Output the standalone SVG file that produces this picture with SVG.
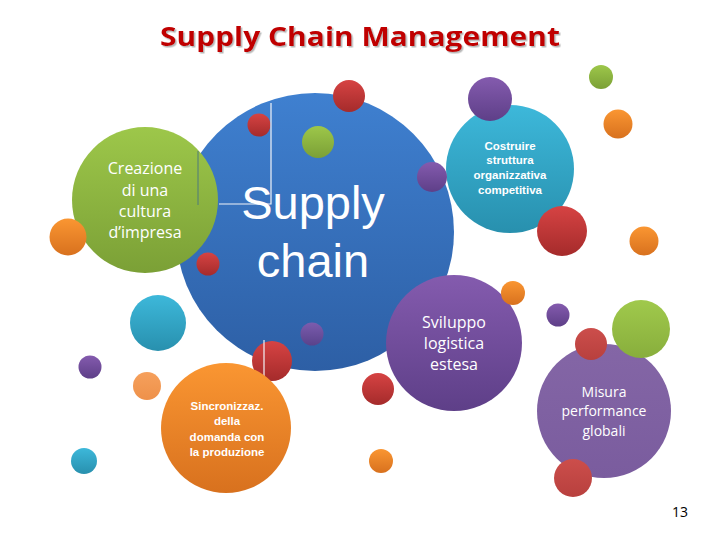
<svg xmlns="http://www.w3.org/2000/svg" width="720" height="540" viewBox="0 0 720 540">
<defs>
<linearGradient id="gBlue" x1="0" y1="0" x2="0" y2="1"><stop offset="0" stop-color="#3F80D0"/><stop offset="1" stop-color="#2D5FA5"/></linearGradient>
<linearGradient id="gGreen" x1="0" y1="0" x2="0" y2="1"><stop offset="0" stop-color="#9DC74A"/><stop offset="1" stop-color="#7BA036"/></linearGradient>
<linearGradient id="gRed" x1="0" y1="0" x2="0" y2="1"><stop offset="0" stop-color="#D64343"/><stop offset="1" stop-color="#A52B2B"/></linearGradient>
<linearGradient id="gRed2" x1="0" y1="0" x2="0" y2="1"><stop offset="0" stop-color="#CC4E4B"/><stop offset="1" stop-color="#B8403E"/></linearGradient>
<linearGradient id="gPurple" x1="0" y1="0" x2="0" y2="1"><stop offset="0" stop-color="#845BAE"/><stop offset="1" stop-color="#5E3F88"/></linearGradient>
<linearGradient id="gPurple2" x1="0" y1="0" x2="0" y2="1"><stop offset="0" stop-color="#8466A6"/><stop offset="1" stop-color="#7A5C9E"/></linearGradient>
<linearGradient id="gCyan" x1="0" y1="0" x2="0" y2="1"><stop offset="0" stop-color="#3DB8DA"/><stop offset="1" stop-color="#2890AE"/></linearGradient>
<linearGradient id="gOrange" x1="0" y1="0" x2="0" y2="1"><stop offset="0" stop-color="#FA9632"/><stop offset="1" stop-color="#D8711E"/></linearGradient>
<linearGradient id="gOrangeL" x1="0" y1="0" x2="0" y2="1"><stop offset="0" stop-color="#F6A05C"/><stop offset="1" stop-color="#EE914A"/></linearGradient>
<linearGradient id="gGreen2" x1="0" y1="0" x2="0" y2="1"><stop offset="0" stop-color="#A0C94C"/><stop offset="1" stop-color="#88AE3C"/></linearGradient>
<filter id="shadow" x="-5%" y="-20%" width="110%" height="150%"><feDropShadow dx="1.5" dy="1.5" stdDeviation="0.6" flood-color="#888" flood-opacity="0.6"/></filter>
</defs>
<style>
.c{font-family:"Open Sans","Liberation Sans",sans-serif;fill:#fff;text-anchor:middle}
.big{font-family:"Liberation Sans",Arial,sans-serif;fill:#fff;text-anchor:middle;font-size:47px}
.nb{font-family:"Liberation Sans",Arial,sans-serif;font-weight:bold;fill:#fff;text-anchor:middle;font-size:11.5px}
.title{font-family:"Open Sans","Liberation Sans",sans-serif;font-weight:bold;font-size:27px;fill:#C00000;text-anchor:middle}
</style>
<rect width="720" height="540" fill="#fff"/>
<text class="title" x="360" y="46" textLength="400" lengthAdjust="spacingAndGlyphs" filter="url(#shadow)">Supply Chain Management</text>

<g id="supply-chain">
<circle cx="315" cy="232" r="139" fill="url(#gBlue)"/>
</g>
<g id="creazione">
<circle cx="145" cy="200" r="73" fill="url(#gGreen)"/>
<text class="c" font-size="16"><tspan x="145" y="174">Creazione</tspan><tspan x="145" y="196">di una</tspan><tspan x="145" y="217">cultura</tspan><tspan x="145" y="238">d’impresa</tspan></text>
</g>
<g id="bubbles">
<circle cx="349" cy="96" r="16" fill="url(#gRed)"/>
<circle cx="259" cy="125" r="11.5" fill="url(#gRed)"/>
<circle cx="318" cy="142" r="16" fill="url(#gGreen)"/>
<circle cx="68" cy="237" r="18.5" fill="url(#gOrange)"/>
<circle cx="208" cy="264" r="11.5" fill="url(#gRed)"/>
<circle cx="158" cy="323" r="28" fill="url(#gCyan)"/>
<circle cx="312" cy="334" r="11.5" fill="url(#gPurple)" opacity="0.9"/>
<circle cx="90" cy="367" r="11.5" fill="url(#gPurple)"/>
<circle cx="147" cy="386" r="14" fill="url(#gOrangeL)"/>
<circle cx="84" cy="461" r="13" fill="url(#gCyan)"/>
<circle cx="378" cy="389" r="16" fill="url(#gRed)"/>
<circle cx="381" cy="461" r="12" fill="url(#gOrange)"/>
<circle cx="601" cy="77" r="12" fill="url(#gGreen)"/>
<circle cx="618" cy="124" r="14.5" fill="url(#gOrange)"/>
<circle cx="644" cy="241" r="14.5" fill="url(#gOrange)"/>
<circle cx="272" cy="361" r="20" fill="url(#gRed)"/>
</g>
<g id="connectors" fill="none">
<line x1="198" y1="151" x2="198" y2="205" stroke="#4F7A7A" stroke-width="1"/>
<polyline points="219,204 271,204 271,103" stroke="#F2F4F8" stroke-width="1.2"/>
<line x1="264" y1="340" x2="264" y2="378" stroke="#F2F4F8" stroke-width="1.2"/>
</g>
<g id="supply-chain-label">
<text class="big"><tspan x="313" y="219">Supply</tspan><tspan x="313" y="277">chain</tspan></text>
</g>
<g id="costruire">
<circle cx="510" cy="169" r="64" fill="url(#gCyan)"/>
<text class="nb"><tspan x="510" y="150">Costruire</tspan><tspan x="510" y="164">struttura</tspan><tspan x="510" y="179">organizzativa</tspan><tspan x="510" y="194">competitiva</tspan></text>
</g>
<g id="bubbles2">
<circle cx="490" cy="99" r="22" fill="url(#gPurple)"/>
<circle cx="432" cy="177" r="15" fill="url(#gPurple)"/>
<circle cx="562" cy="231" r="25" fill="url(#gRed)"/>
</g>
<g id="sviluppo">
<circle cx="454" cy="343" r="68" fill="url(#gPurple)"/>
<text class="c" font-size="16"><tspan x="454" y="328">Sviluppo</tspan><tspan x="454" y="349">logistica</tspan><tspan x="454" y="370">estesa</tspan></text>
</g>
<g id="sincronizzaz">
<circle cx="226" cy="428" r="65" fill="url(#gOrange)"/>
<text class="nb"><tspan x="227" y="410">Sincronizzaz.</tspan><tspan x="227" y="425">della</tspan><tspan x="227" y="441">domanda con</tspan><tspan x="227" y="456">la produzione</tspan></text>
</g>
<g id="misura">
<circle cx="604" cy="411" r="67" fill="url(#gPurple2)"/>
<text class="c" font-size="14"><tspan x="604" y="397">Misura</tspan><tspan x="604" y="416">performance</tspan><tspan x="604" y="436">globali</tspan></text>
</g>
<g id="bubbles3">
<circle cx="513" cy="293" r="12" fill="url(#gOrange)"/>
<circle cx="558" cy="315" r="11.5" fill="url(#gPurple)"/>
<circle cx="641" cy="329" r="29" fill="url(#gGreen2)"/>
<circle cx="591" cy="344" r="16" fill="url(#gRed2)"/>
<circle cx="573" cy="478" r="19" fill="url(#gRed2)"/>
</g>
<text x="680" y="517" font-family="Open Sans,Liberation Sans,sans-serif" font-size="14" text-anchor="middle" fill="#000">13</text>
</svg>
